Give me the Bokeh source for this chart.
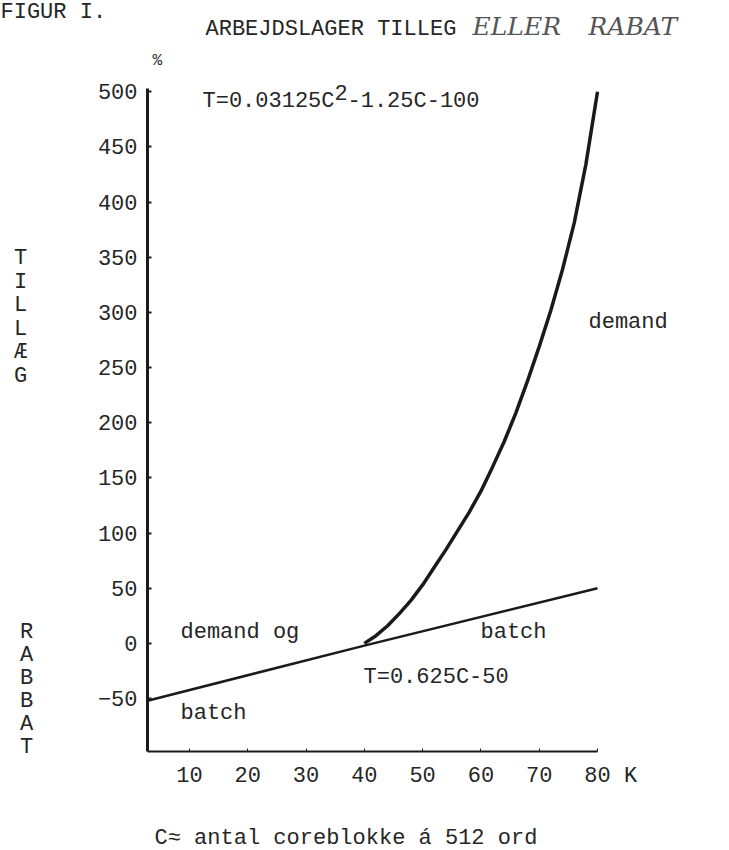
from bokeh.plotting import figure
from bokeh.models import Label, FixedTicker, Range1d
from bokeh.embed import file_html
from bokeh.resources import INLINE

# ---- data ----
demand_k = [40, 42, 44, 46, 48, 50, 52, 54, 56, 58, 60, 62, 64, 66, 68, 70, 72, 74, 76, 78, 80]
demand_t = [0, 7, 16, 27, 39, 53, 69, 85, 102, 119, 138, 160, 183, 209, 238, 269, 302, 339, 381, 434, 500]
batch_k = [2.8, 40, 80]
batch_t = [-52, -2, 50]
x_ticks = [10, 20, 30, 40, 50, 60, 70, 80]
y_ticks = [-50, 0, 50, 100, 150, 200, 250, 300, 350, 400, 450, 500]

# axis extents in data units
XA0, XA1 = 2.8, 80
YA0, YA1 = -98, 503
# where those extents sit on the page (pixels)
FL, FR, FT, FB = 147, 597, 88, 751
W, H = 729, 850

sx = (XA1 - XA0) / (FR - FL)   # data units per pixel
sy = (YA1 - YA0) / (FB - FT)
x_range = Range1d(XA0 - FL * sx, XA1 + (W - FR) * sx)
y_range = Range1d(YA0 - (H - FB) * sy, YA1 + FT * sy)

FONT = "Liberation Mono"
FS = "22px"
INK = "#1a1a1a"
TXT = "#262626"

p = figure(width=W, height=H, output_backend="svg", toolbar_location=None,
           x_range=x_range, y_range=y_range,
           min_border=0, min_border_left=0, min_border_right=0,
           min_border_top=0, min_border_bottom=0)
p.outline_line_color = None
p.grid.visible = False
p.background_fill_color = "white"
p.border_fill_color = "white"

xa, ya = p.xaxis[0], p.yaxis[0]
for ax in (xa, ya):
    ax.major_label_text_font = FONT
    ax.major_label_text_font_size = FS
    ax.major_label_text_color = TXT
    ax.axis_line_color = INK
    ax.major_tick_line_color = INK
    ax.minor_tick_line_color = None
    ax.major_tick_out = 0
ya.fixed_location = XA0
xa.fixed_location = YA0
ya.bounds = (YA0, YA1)
xa.bounds = (XA0, XA1)
ya.ticker = FixedTicker(ticks=y_ticks)
xa.ticker = FixedTicker(ticks=x_ticks)
xa.major_label_overrides = {80: "\u00a0\u00a080\u00a0K"}
ya.axis_line_width = 3
ya.major_tick_in = 4
ya.major_tick_line_width = 2
ya.major_label_standoff = 10
xa.axis_line_width = 2
xa.major_tick_in = 3
xa.major_label_standoff = 12

p.line(batch_k, batch_t, line_color=INK, line_width=2.5)
p.line(demand_k, demand_t, line_color=INK, line_width=3.5)


def px2x(px):
    return x_range.start + px * sx


def px2y(py):
    return y_range.end - py * sy


def lab(text, px, py, align="left", size=FS, font=FONT, style="normal", color=TXT):
    p.add_layout(Label(x=px2x(px), y=px2y(py), text=text, text_font=font,
                       text_font_size=size, text_font_style=style,
                       text_color=color, text_align=align,
                       text_baseline="middle"))


lab("FIGUR I.", 0, 12)
lab("ARBEJDSLAGER TILLEG", 205, 29)
lab("ELLER", 472, 26, size="25px", font="DejaVu Serif", style="italic", color="#555555")
lab("RABAT", 588, 26, size="25px", font="DejaVu Serif", style="italic", color="#555555")
lab("%", 152, 60, size="16px")
lab("T=0.03125C", 202, 101)
lab("2", 334, 92)
lab("-1.25C-100", 347, 101)
lab("demand", 588, 322)
lab("demand og", 180, 632)
lab("batch", 480, 632)
lab("T=0.625C-50", 363, 677)
lab("batch", 180, 713)
lab("C\u2248 antal coreblokke \u00e1 512 ord", 154, 838)

for i, ch in enumerate("TILLÆG"):
    lab(ch, 20, 258 + i * 23.5, align="center")
for i, ch in enumerate("RABBAT"):
    lab(ch, 26, 632 + i * 23, align="center")

open("out.html", "w").write(file_html(p, INLINE))
